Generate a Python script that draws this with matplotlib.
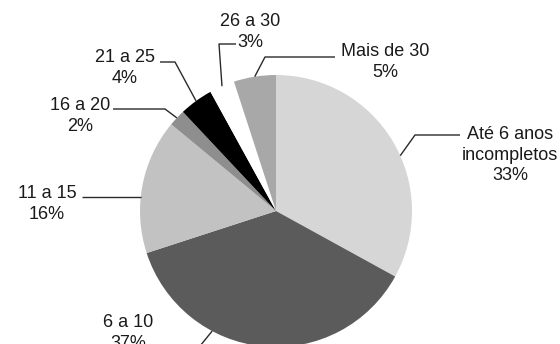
import numpy as np
import matplotlib.pyplot as plt

plt.rcParams["font.family"] = ["Liberation Sans", "DejaVu Sans"]

# Data
categorias = ["Até 6 anos\nincompletos", "6 a 10", "11 a 15", "16 a 20",
              "21 a 25", "26 a 30", "Mais de 30"]
percentuais = [33, 37, 16, 2, 4, 3, 5]
cores = ["#d6d6d6", "#5b5b5b", "#c2c2c2", "#8e8e8e", "#000000", "#ffffff",
         "#a8a8a8"]

W, H = 560, 344
cx, cy, r = 276, H - 211, 136

# label text centre, elbow point of the leader, anchor angle override (deg)
rotulos = [
    ((510, 155), (415, 135), 24),
    ((128, 333), None, -118),
    ((47, 204), None, None),
    ((80, 116), (165, 109), None),
    ((125, 68), (175, 62), None),
    ((250, 32), (219, 44), None),
    ((385, 62), (265, 57), None),
]
fim_linha = [(460, 135), (200, 346), (82, 197), (113, 109), (160, 62),
             (236, 44), (335, 57)]

fig = plt.figure(figsize=(W / 100, H / 100), dpi=100)
ax = fig.add_axes([0, 0, 1, 1])

wedges, _ = ax.pie(percentuais, colors=cores, startangle=90, counterclock=False,
                   center=(cx, cy), radius=r,
                   wedgeprops=dict(linewidth=0))

for w, cat, p, (tpos, elbow, ang), fim in zip(wedges, categorias, percentuais,
                                               rotulos, fim_linha):
    if ang is None:
        ang = (w.theta1 + w.theta2) / 2
    ax_pt = (cx + r * np.cos(np.radians(ang)), cy + r * np.sin(np.radians(ang)))
    if cat == "11 a 15":
        dy = (H - fim[1]) - cy
        ax_pt = (cx - np.sqrt(r ** 2 - dy ** 2), cy + dy)
    xs = [ax_pt[0]]
    ys = [ax_pt[1]]
    if elbow is not None:
        xs.append(elbow[0])
        ys.append(H - elbow[1])
    xs.append(fim[0])
    ys.append(H - fim[1])
    ax.plot(xs, ys, color="#2a2a2a", lw=1, solid_capstyle="butt")
    ax.text(tpos[0], H - tpos[1], f"{cat}\n{p}%", ha="center", va="center",
            fontsize=13, color="#1a1a1a", linespacing=1.25)

ax.set_xlim(0, W)
ax.set_ylim(0, H)
ax.set_aspect("equal")
ax.axis("off")

fig.savefig("out.png", dpi=100)
